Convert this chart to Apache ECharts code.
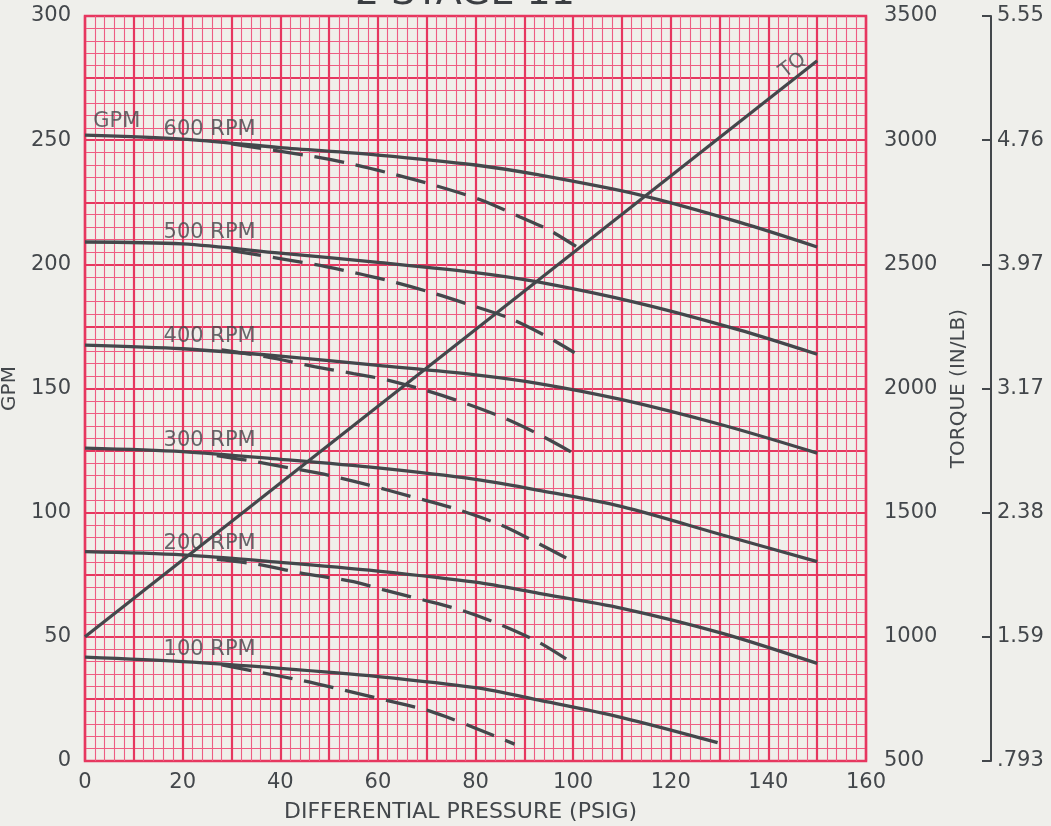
<!DOCTYPE html>
<html>
<head>
<meta charset="utf-8">
<script src="https://cdn.jsdelivr.net/npm/echarts@6/dist/echarts.min.js"></script>
<style>
html,body{margin:0;padding:0;background:#efefeb;}
#chart{width:1051px;height:826px;}
</style>
</head>
<body>
<div id="chart"></div>
<script>
// ---- data (x = differential pressure PSIG, y = GPM) ----
const rpm600Solid = [[0,252],[20,250.4],[40,247],[60,244],[80,240],[93,236],[113.6,228],[134,217],[150,207]];
const rpm600Dash  = [[30,248.5],[45,244],[54,240.7],[63,236.4],[72,231.6],[81,226],[89,219.2],[95,213.9],[100.6,207.2]];
const rpm500Solid = [[0,209],[20,208.2],[40,204.5],[60,200.8],[80,196.7],[92.5,193],[113.6,184.3],[134,173.6],[150,163.8]];
const rpm500Dash  = [[30,205.5],[47,200],[55,196.7],[63,193],[71,188.6],[79,183.6],[87,178.3],[94,171.6],[100.3,164.4]];
const rpm400Solid = [[0,167.5],[20,166],[40,163],[60,159.3],[80,155.5],[93,152],[110,145.5],[130.6,135.3],[150,124]];
const rpm400Dash  = [[28,165.5],[37,162.8],[47,158.8],[55,156],[62,153.4],[70,149.1],[78,144],[86,138],[93,131.5],[100,124]];
const rpm300Solid = [[0,126],[20,124.6],[40,121.5],[60,118],[80,113.4],[93,109],[110,102.4],[130.6,91],[150,80.3]];
const rpm300Dash  = [[27,123],[35,120.5],[42,118],[50,115],[58,111.2],[67,106.4],[76,101.5],[85,95.2],[92,88.5],[100,80.3]];
const rpm200Solid = [[0,84.3],[20,83],[40,80],[60,76.5],[80,72],[93,67.5],[110,61.5],[130.6,51.4],[150,39.3]];
const rpm200Dash  = [[27,81.2],[35,79.3],[44,75.8],[55,72.2],[61,69],[69,65],[77,60.8],[85,55],[93,47.8],[100,39.3]];
const rpm100Solid = [[0,41.8],[20,40],[40,37.3],[60,34],[80,29.5],[93,24.5],[110,17.5],[129.6,7.4]];
const rpm100Dash  = [[28,38.7],[35,36],[44,32.6],[53,28.6],[62,24.3],[70,20.5],[74,17.8],[80,13.2],[88,6.8]];
// torque line (x = PSIG, y = torque in/lb)
const torqueLine  = [[0,1000],[150,3320]];
// curve labels [x, GPM, text]
const curveLabels = [[1.6,257.3,'GPM'],[16,254.1,'600 RPM'],[16,212.6,'500 RPM'],[16,170.8,'400 RPM'],[16,128.9,'300 RPM'],[16,87.4,'200 RPM'],[16,44.7,'100 RPM']];
const tqLabel = [[145,3300,'TQ']];
// tick labels of the outer torque scale
const outerTicks = ['.793','1.59','2.38','3.17','3.97','4.76','5.55'];

const INK = '#43474b';
const RED_MAJOR = '#e6375f';
const RED_MINOR = '#ee5c82';
const FONT = 'DejaVu Sans';

function solid(name, data){
  return {name, type:'line', xAxisIndex:0, yAxisIndex:0, data, symbol:'none', smooth:0.3,
    lineStyle:{color:INK, width:3.3}, z:5, silent:true};
}
function dashed(name, data){
  return {name, type:'line', xAxisIndex:0, yAxisIndex:0, data, symbol:'none', smooth:0.3,
    lineStyle:{color:INK, width:3.3, type:[30,12]}, z:5, silent:true};
}

const chart = echarts.init(document.getElementById('chart'), null, {renderer:'canvas'});
chart.setOption({
  backgroundColor:'#efefeb',
  animation:false,
  textStyle:{fontFamily:FONT},
  title:{text:'2 STAGE 11', left:350, top:-30, textStyle:{fontFamily:FONT, fontSize:38, fontWeight:'normal', color:'#3b3e42'}},
  grid:{left:85, right:185, top:16, bottom:65, show:true, borderColor:RED_MAJOR, borderWidth:2.5, backgroundColor:'#f0efea',
        containLabel:false, outerBoundsMode:'none'},
  xAxis:[
    {type:'value', min:0, max:160, interval:20,
     name:'DIFFERENTIAL PRESSURE (PSIG)', nameLocation:'middle', nameGap:40,
     nameTextStyle:{fontFamily:FONT, fontSize:22, color:INK, padding:[0,30,0,0]},
     axisLine:{show:false}, axisTick:{show:false},
     axisLabel:{fontFamily:FONT, fontSize:21, color:INK, margin:11, formatter:(v)=>String(v)},
     splitLine:{show:false}},
    {type:'value', min:0, max:160, interval:10, show:true,
     axisLine:{show:false}, axisTick:{show:false}, axisLabel:{show:false},
     splitLine:{show:true, lineStyle:{color:RED_MAJOR, width:2.2}},
     minorTick:{show:false, splitNumber:5},
     minorSplitLine:{show:true, lineStyle:{color:RED_MINOR, width:1.1}}}
  ],
  yAxis:[
    {type:'value', min:0, max:300, interval:50, position:'left',
     name:'GPM', nameLocation:'middle', nameGap:65, nameRotate:90,
     nameTextStyle:{fontFamily:FONT, fontSize:20, color:INK},
     axisLine:{show:false}, axisTick:{show:false},
     axisLabel:{fontFamily:FONT, fontSize:21, color:INK, margin:14, formatter:(v)=>String(v)},
     splitLine:{show:false}},
    {type:'value', min:500, max:3500, interval:500, position:'right',
     name:'TORQUE (IN/LB)', nameLocation:'middle', nameGap:78, nameRotate:90,
     nameTextStyle:{fontFamily:FONT, fontSize:20, color:INK},
     axisLine:{show:false}, axisTick:{show:false},
     axisLabel:{fontFamily:FONT, fontSize:21, color:INK, margin:18, formatter:(v)=>String(v)},
     splitLine:{show:false}},
    {type:'value', min:0, max:6, interval:1, position:'right', offset:125,
     axisLine:{show:true, lineStyle:{color:INK, width:2}},
     axisTick:{show:true, inside:true, length:9, lineStyle:{color:INK, width:2}},
     axisLabel:{fontFamily:FONT, fontSize:21, color:INK, margin:6, formatter:(v)=>outerTicks[Math.round(v)]},
     splitLine:{show:false}},
    {type:'value', min:0, max:300, interval:25, position:'left', show:true,
     axisLine:{show:false}, axisTick:{show:false}, axisLabel:{show:false},
     splitLine:{show:true, lineStyle:{color:RED_MAJOR, width:2.2}},
     minorTick:{show:false, splitNumber:5},
     minorSplitLine:{show:true, lineStyle:{color:RED_MINOR, width:1.1}}}
  ],
  series:[
    solid('600 RPM', rpm600Solid), dashed('600 RPM limit', rpm600Dash),
    solid('500 RPM', rpm500Solid), dashed('500 RPM limit', rpm500Dash),
    solid('400 RPM', rpm400Solid), dashed('400 RPM limit', rpm400Dash),
    solid('300 RPM', rpm300Solid), dashed('300 RPM limit', rpm300Dash),
    solid('200 RPM', rpm200Solid), dashed('200 RPM limit', rpm200Dash),
    solid('100 RPM', rpm100Solid), dashed('100 RPM limit', rpm100Dash),
    {name:'TQ', type:'line', xAxisIndex:0, yAxisIndex:1, data:torqueLine, symbol:'none',
     lineStyle:{color:INK, width:3.2}, z:5, silent:true},
    {name:'labels', type:'scatter', xAxisIndex:0, yAxisIndex:0, symbolSize:1,
     itemStyle:{color:'rgba(0,0,0,0)'}, z:6, silent:true,
     data:curveLabels.map(d=>({value:[d[0],d[1]], name:d[2]})),
     label:{show:true, position:'right', distance:0, formatter:'{b}', fontFamily:FONT, fontSize:21, color:INK}},
    {name:'tqlabel', type:'scatter', xAxisIndex:0, yAxisIndex:1, symbolSize:1,
     itemStyle:{color:'rgba(0,0,0,0)'}, z:6, silent:true,
     data:tqLabel.map(d=>({value:[d[0],d[1]], name:d[2]})),
     label:{show:true, position:'inside', rotate:38, formatter:'{b}', fontFamily:FONT, fontSize:20, color:INK}}
  ]
});
</script>
</body>
</html>
